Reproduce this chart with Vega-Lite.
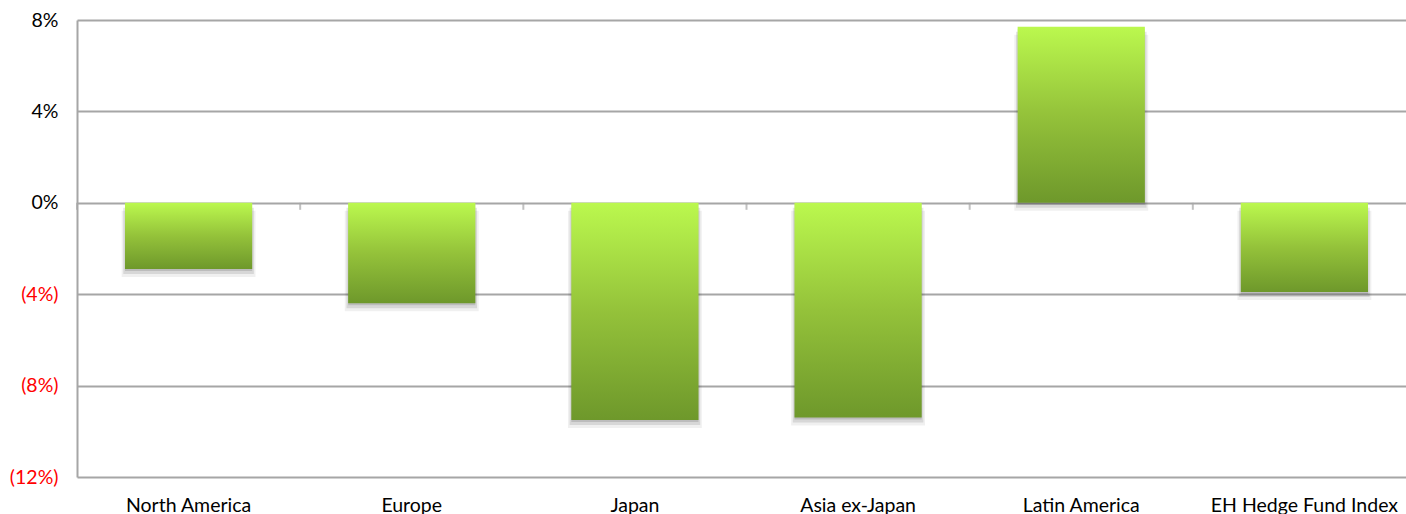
{
  "$schema": "https://vega.github.io/schema/vega-lite/v6.json",
  "autosize": {"type": "none"},
  "padding": {"left": 77, "top": 20, "right": 0, "bottom": 37},
  "width": 1329,
  "height": 457,
  "background": "white",
  "view": {"stroke": null},
  "config": {"font": "Lato"},
  "data": {"values": [
    {"region": "North America", "ret": -2.9},
    {"region": "Europe", "ret": -4.4},
    {"region": "Japan", "ret": -9.5},
    {"region": "Asia ex-Japan", "ret": -9.4},
    {"region": "Latin America", "ret": 7.7},
    {"region": "EH Hedge Fund Index", "ret": -3.9}
  ]},
  "encoding": {
    "x": {
      "field": "region", "type": "nominal", "sort": null,
      "scale": {"range": [0, 1339], "paddingInner": 0, "paddingOuter": 0},
      "axis": {"title": null, "domain": false, "ticks": false, "labelAngle": 0, "labelFontSize": 19.5, "labelColor": "#000000", "labelPadding": 19, "labelLimit": 0, "labelFont": "Lato"}
    }
  },
  "layer": [
    {
      "mark": {"type": "bar", "width": {"band": 0.6}, "color": "#000000", "opacity": 0.06, "yOffset": 8},
      "encoding": {
        "y": {"field": "ret", "type": "quantitative",
          "scale": {"domain": [-12, 8], "nice": false, "zero": false},
          "axis": {"title": null, "values": [-12, -8, -4, 0, 4, 8], "grid": true, "gridColor": "#a6a6a6", "gridWidth": 2,
            "domain": true, "domainColor": "#a6a6a6", "domainWidth": 2, "ticks": false, "tickSize": 0,
            "labelPadding": 19, "labelFontSize": 19.5, "labelFont": "Lato",
            "labelExpr": "datum.value < 0 ? '(' + (-datum.value) + '%)' : datum.value + '%'",
            "labelColor": {"condition": {"test": "datum.value < 0", "value": "#ff0000"}, "value": "#000000"}}}
      }
    },
    {
      "mark": {"type": "bar", "width": {"band": 0.585}, "color": "#000000", "opacity": 0.1, "yOffset": 5},
      "encoding": {"y": {"field": "ret", "type": "quantitative"}}
    },
    {
      "mark": {"type": "bar", "width": {"band": 0.57}, "color": "#000000", "opacity": 0.12, "yOffset": 2},
      "encoding": {"y": {"field": "ret", "type": "quantitative"}}
    },
    {
      "mark": {"type": "bar", "width": {"band": 0.57},
        "color": {"gradient": "linear", "x1": 0, "y1": 0, "x2": 0, "y2": 1,
          "stops": [{"offset": 0, "color": "#bbf84e"}, {"offset": 0.5, "color": "#94c23a"}, {"offset": 1, "color": "#6e982b"}]}},
      "encoding": {"y": {"field": "ret", "type": "quantitative"}}
    },
    {
      "mark": {"type": "tick", "orient": "vertical", "size": 7, "thickness": 2, "color": "#a6a6a6", "yOffset": 3.5},
      "encoding": {
        "x": {"field": "region", "type": "nominal", "sort": null, "bandPosition": 0},
        "y": {"datum": 0, "type": "quantitative"}
      }
    }
  ]
}
